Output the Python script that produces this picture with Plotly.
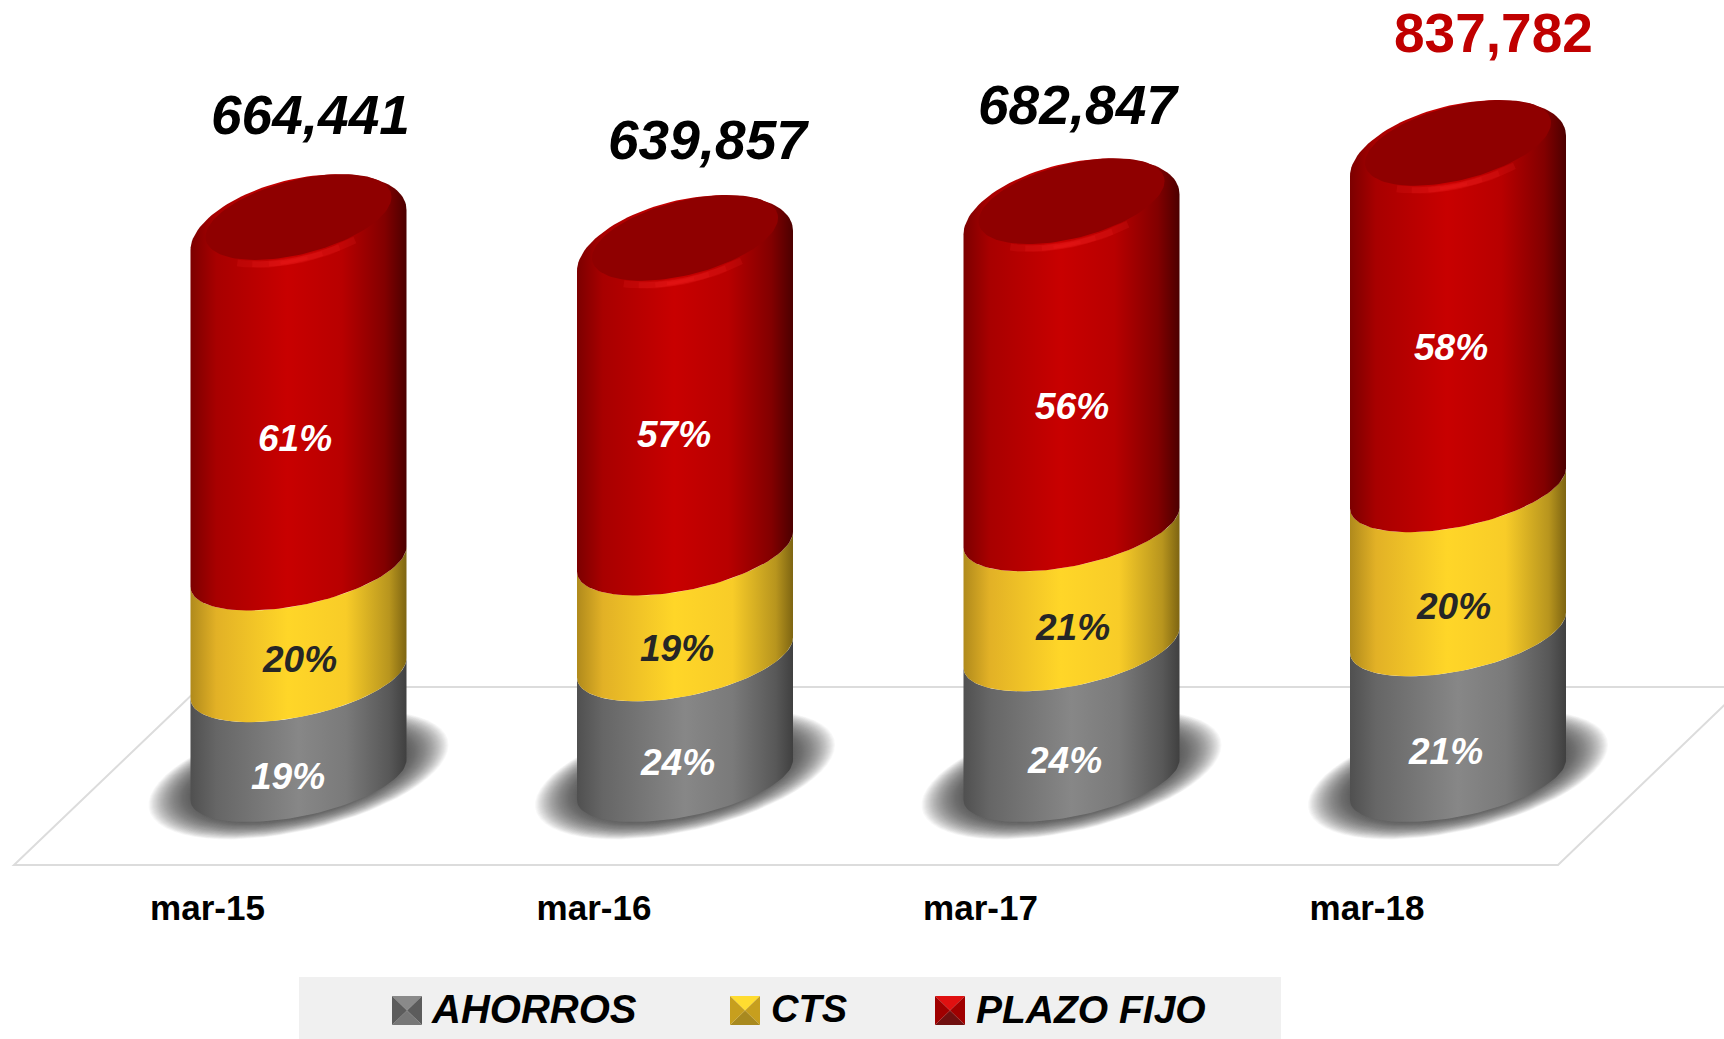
import numpy as np
import plotly.graph_objects as go

# ---------- data ----------
CATEGORIES = ["mar-15", "mar-16", "mar-17", "mar-18"]
TOTAL_LABELS = ["664,441", "639,857", "682,847", "837,782"]
# drawn segment heights
AHORROS = [122000, 147000, 159000, 177000]
CTS = [134000, 127000, 144000, 173000]
PLAZO_FIJO = [404000, 361000, 376000, 399000]
PCT_AHORROS = ["19%", "24%", "24%", "21%"]
PCT_CTS = ["20%", "19%", "21%", "20%"]
PCT_PLAZO = ["61%", "57%", "56%", "58%"]

# ---------- scale (figure pixels <-> axis units) ----------
W, H = 1724, 1039
CX0, STEP = 298.5, 386.5      # pixel centre of the first category, category spacing
BASE_PX = 780                 # pixel row of value 0
VAL_PER_PX = 1200
xr = [-CX0 / STEP, (W - CX0) / STEP]
yr = [(BASE_PX - H) * VAL_PER_PX, BASE_PX * VAL_PER_PX]
def X(px): return (px - CX0) / STEP
def Y(px): return (BASE_PX - px) * VAL_PER_PX

# ---------- styles ----------
FONT = "Liberation Sans"
GRAY = [[0, "#505050"], [0.12, "#666666"], [0.5, "#878787"], [0.72, "#7a7a7a"], [0.92, "#585858"], [1, "#404040"]]
YEL = [[0, "#b08a1c"], [0.12, "#e2b126"], [0.45, "#ffd628"], [0.72, "#f8cc28"], [0.92, "#b8951e"], [1, "#7e6512"]]
RED = [[0, "#7c0000"], [0.12, "#a80000"], [0.45, "#c80000"], [0.7, "#b80000"], [0.9, "#820000"], [1, "#4c0000"]]
A, SLOPE = 108, 20            # half width and tilt of a cylinder, px
B_BASE, B_MID, B_TOP = 37, 39, 52

def arc(i, level, a, b, s, t0, t1, n=60, dy=0):
    """Part of a tilted ellipse; t in 0..pi is the front edge, pi..2pi the back edge."""
    t = np.linspace(t0, t1, n)
    x = i + a * np.cos(t) / STEP
    y = level + (s * np.cos(t) - b * np.sin(t) + dy) * VAL_PER_PX
    return x, y

fig = go.Figure()

def add_fill(x, y, **kw):
    fig.add_trace(go.Scatter(x=x, y=y, mode="lines", fill="toself", line=dict(width=0),
                             hoverinfo="skip", showlegend=False, **kw))

# shadows
for i in range(4):
    for k in np.linspace(1.0, 0.72, 40):
        x, y = arc(i, 0, 150 * k, 57 * k, 30 * k, 0, 2 * np.pi, dy=5)
        add_fill(x, y, fillcolor="rgba(48,48,48,0.036)")

# stacked cylinders
for name, seg, cs in [("AHORROS", AHORROS, GRAY), ("CTS", CTS, YEL), ("PLAZO FIJO", PLAZO_FIJO, RED)]:
    for i in range(4):
        lo = {"AHORROS": 0, "CTS": AHORROS[i], "PLAZO FIJO": AHORROS[i] + CTS[i]}[name]
        hi = lo + seg[i]
        b0 = B_BASE if name == "AHORROS" else B_MID
        x0, y0 = arc(i, lo, A, b0, SLOPE, np.pi, 0)
        if name == "PLAZO FIJO":
            x1, y1 = arc(i, hi, A, B_TOP, SLOPE, 2 * np.pi, np.pi)
        else:
            x1, y1 = arc(i, hi, A, B_MID, SLOPE, 0, np.pi)
        add_fill(np.r_[x0, x1], np.r_[y0, y1], name=name, fillgradient=dict(type="horizontal", colorscale=cs))

# caps: soft rim highlight, then the dark inner ellipse
for i in range(4):
    top = AHORROS[i] + CTS[i] + PLAZO_FIJO[i]
    for t0, t1, wd in [(0.3, 0.72, 7), (0.36, 0.66, 6), (0.42, 0.6, 5), (0.47, 0.56, 3)]:
        x, y = arc(i, top, 96, 43, 20, t0 * np.pi, t1 * np.pi, n=30, dy=13)
        fig.add_trace(go.Scatter(x=x, y=y, mode="lines", line=dict(color="#ff2a2a", width=wd),
                                 opacity=0.14, hoverinfo="skip", showlegend=False))
    x, y = arc(i, top, 93, 38, 20, 0, 2 * np.pi, n=120, dy=13)
    fig.add_trace(go.Scatter(x=x, y=y, mode="lines", fill="toself", fillcolor="#8f0000",
                             line=dict(width=0), hoverinfo="skip", showlegend=False))

shapes = []
def P(x, y): return f"{x / W:.5f} {1 - y / H:.5f}"

# floor outline
shapes.append(dict(type="path", xref="paper", yref="paper", layer="below",
                   path="M" + " L".join(P(a, b) for a, b in [(1740, 687), (200, 687), (14, 865), (1558, 865), (1740, 690)]),
                   line=dict(color="#dcdcdc", width=2)))

# legend band and swatches
shapes.append(dict(type="rect", xref="paper", yref="paper", layer="below", x0=299 / W, x1=1281 / W,
                   y0=0, y1=1 - 977 / H, fillcolor="#f0f0f0", line=dict(width=0)))
SWATCHES = [(392, ["#8a8a8a", "#5c5c5c", "#777777", "#5c5c5c"]),
            (730, ["#ffdc30", "#c79f1e", "#a8891f", "#c79f1e"]),
            (935, ["#e01010", "#a00000", "#701010", "#a00000"])]
for sx, cols in SWATCHES:
    x0, x1, y0, y1, xm, ym = sx, sx + 30, 996, 1025, sx + 15, 1010.5
    tris = [[(x0, y0), (x1, y0), (xm, ym)], [(x1, y0), (x1, y1), (xm, ym)],
            [(x0, y1), (x1, y1), (xm, ym)], [(x0, y0), (x0, y1), (xm, ym)]]
    for tri, c in zip(tris, cols):
        shapes.append(dict(type="path", xref="paper", yref="paper", layer="above",
                           path="M" + " L".join(P(a, b) for a, b in tri) + " Z",
                           fillcolor=c, line=dict(width=0)))

# ---------- text ----------
ann = []
def label(xp, yp, text, size, color, xanchor="center", italic=True):
    ann.append(dict(x=X(xp), y=Y(yp), xref="x", yref="y", text=text, showarrow=False, xanchor=xanchor,
                    yanchor="middle", font=dict(family=FONT, size=size, color=color, weight=700,
                                                style="italic" if italic else "normal")))

TOTAL_POS = [(310, 115), (708, 140), (1078, 105), (1493, 33)]
TOTAL_COL = ["#000000", "#000000", "#000000", "#c00000"]
for t, (xp, yp), c in zip(TOTAL_LABELS, TOTAL_POS, TOTAL_COL):
    label(xp, yp, t, 55, c, italic=t != "837,782")

PCT_POS_P = [(295, 438), (674, 434), (1072, 406), (1451, 347)]
PCT_POS_C = [(299, 659), (677, 648), (1072, 627), (1453, 606)]
PCT_POS_A = [(288, 776), (677, 762), (1064, 760), (1445, 751)]
for i in range(4):
    label(*PCT_POS_P[i], PCT_PLAZO[i], 37, "#ffffff")
    label(*PCT_POS_C[i], PCT_CTS[i], 37, "#262626")
    label(*PCT_POS_A[i], PCT_AHORROS[i], 37, "#ffffff")

for xp, t, sz in [(429, "AHORROS", 40), (769, "CTS", 38), (974, "PLAZO FIJO", 39)]:
    label(xp, 1009, t, sz, "#000000", xanchor="left")

LABEL_SHIFT = 91 / STEP   # category labels sit left of their cylinders
fig.update_layout(
    width=W, height=H, margin=dict(l=0, r=0, t=0, b=0),
    paper_bgcolor="#ffffff", plot_bgcolor="rgba(0,0,0,0)",
    showlegend=False, shapes=shapes, annotations=ann,
    xaxis=dict(range=xr, autorange=False, showgrid=False, zeroline=False, showline=False, ticks="",
               tickmode="array", tickvals=[i - LABEL_SHIFT for i in range(4)], ticktext=CATEGORIES,
               tickfont=dict(family=FONT, size=35, color="#000000", weight=700),
               anchor="free", position=1 - 884 / H, fixedrange=True),
    yaxis=dict(range=yr, autorange=False, visible=False, fixedrange=True),
)
fig.write_html("out.html", config={"displayModeBar": False},
               post_script="document.body.style.margin='0';")
